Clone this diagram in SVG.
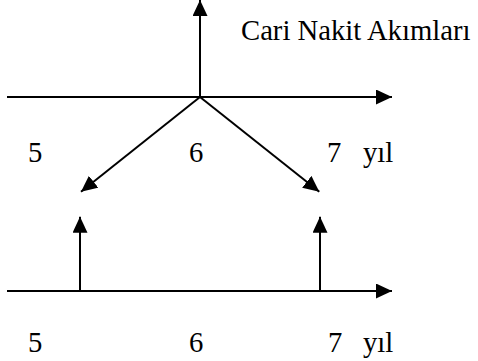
<svg xmlns="http://www.w3.org/2000/svg" width="478" height="361" viewBox="0 0 478 361">
<defs>
<style>
.ln{stroke:#000;stroke-width:2;fill:none}
</style>
<marker id="ah" markerUnits="userSpaceOnUse" markerWidth="16" markerHeight="15" refX="16" refY="7.5" orient="auto" viewBox="0 0 16 15">
<path d="M0,0 L16,7.5 L0,15 z" fill="#000"/>
</marker>
</defs>
<rect width="478" height="361" fill="#fff"/>
<g id="connectors">
<line class="ln" x1="7" y1="97" x2="392" y2="97" marker-end="url(#ah)"/>
<line class="ln" x1="200" y1="97" x2="200" y2="0" marker-end="url(#ah)"/>
<line class="ln" x1="200" y1="97" x2="81" y2="191.7" marker-end="url(#ah)"/>
<line class="ln" x1="200" y1="97" x2="319.3" y2="191.7" marker-end="url(#ah)"/>
<line class="ln" x1="7" y1="291" x2="392" y2="291" marker-end="url(#ah)"/>
<line class="ln" x1="80" y1="291" x2="80" y2="216.7" marker-end="url(#ah)"/>
<line class="ln" x1="320" y1="291" x2="320" y2="216.7" marker-end="url(#ah)"/>
</g>
<g font-family="Liberation Serif, Times New Roman, serif" font-size="28.7" fill="#000">
<g id="title"><text x="241" y="40">Cari Nakit Akımları</text></g>
<g id="top-labels">
<text x="28" y="162">5</text>
<text x="189" y="162">6</text>
<text x="327" y="162">7</text>
<text x="363" y="162">yıl</text>
</g>
<g id="bottom-labels">
<text x="28" y="352">5</text>
<text x="189" y="352">6</text>
<text x="328" y="352">7</text>
<text x="363" y="352">yıl</text>
</g>
</g>
</svg>
